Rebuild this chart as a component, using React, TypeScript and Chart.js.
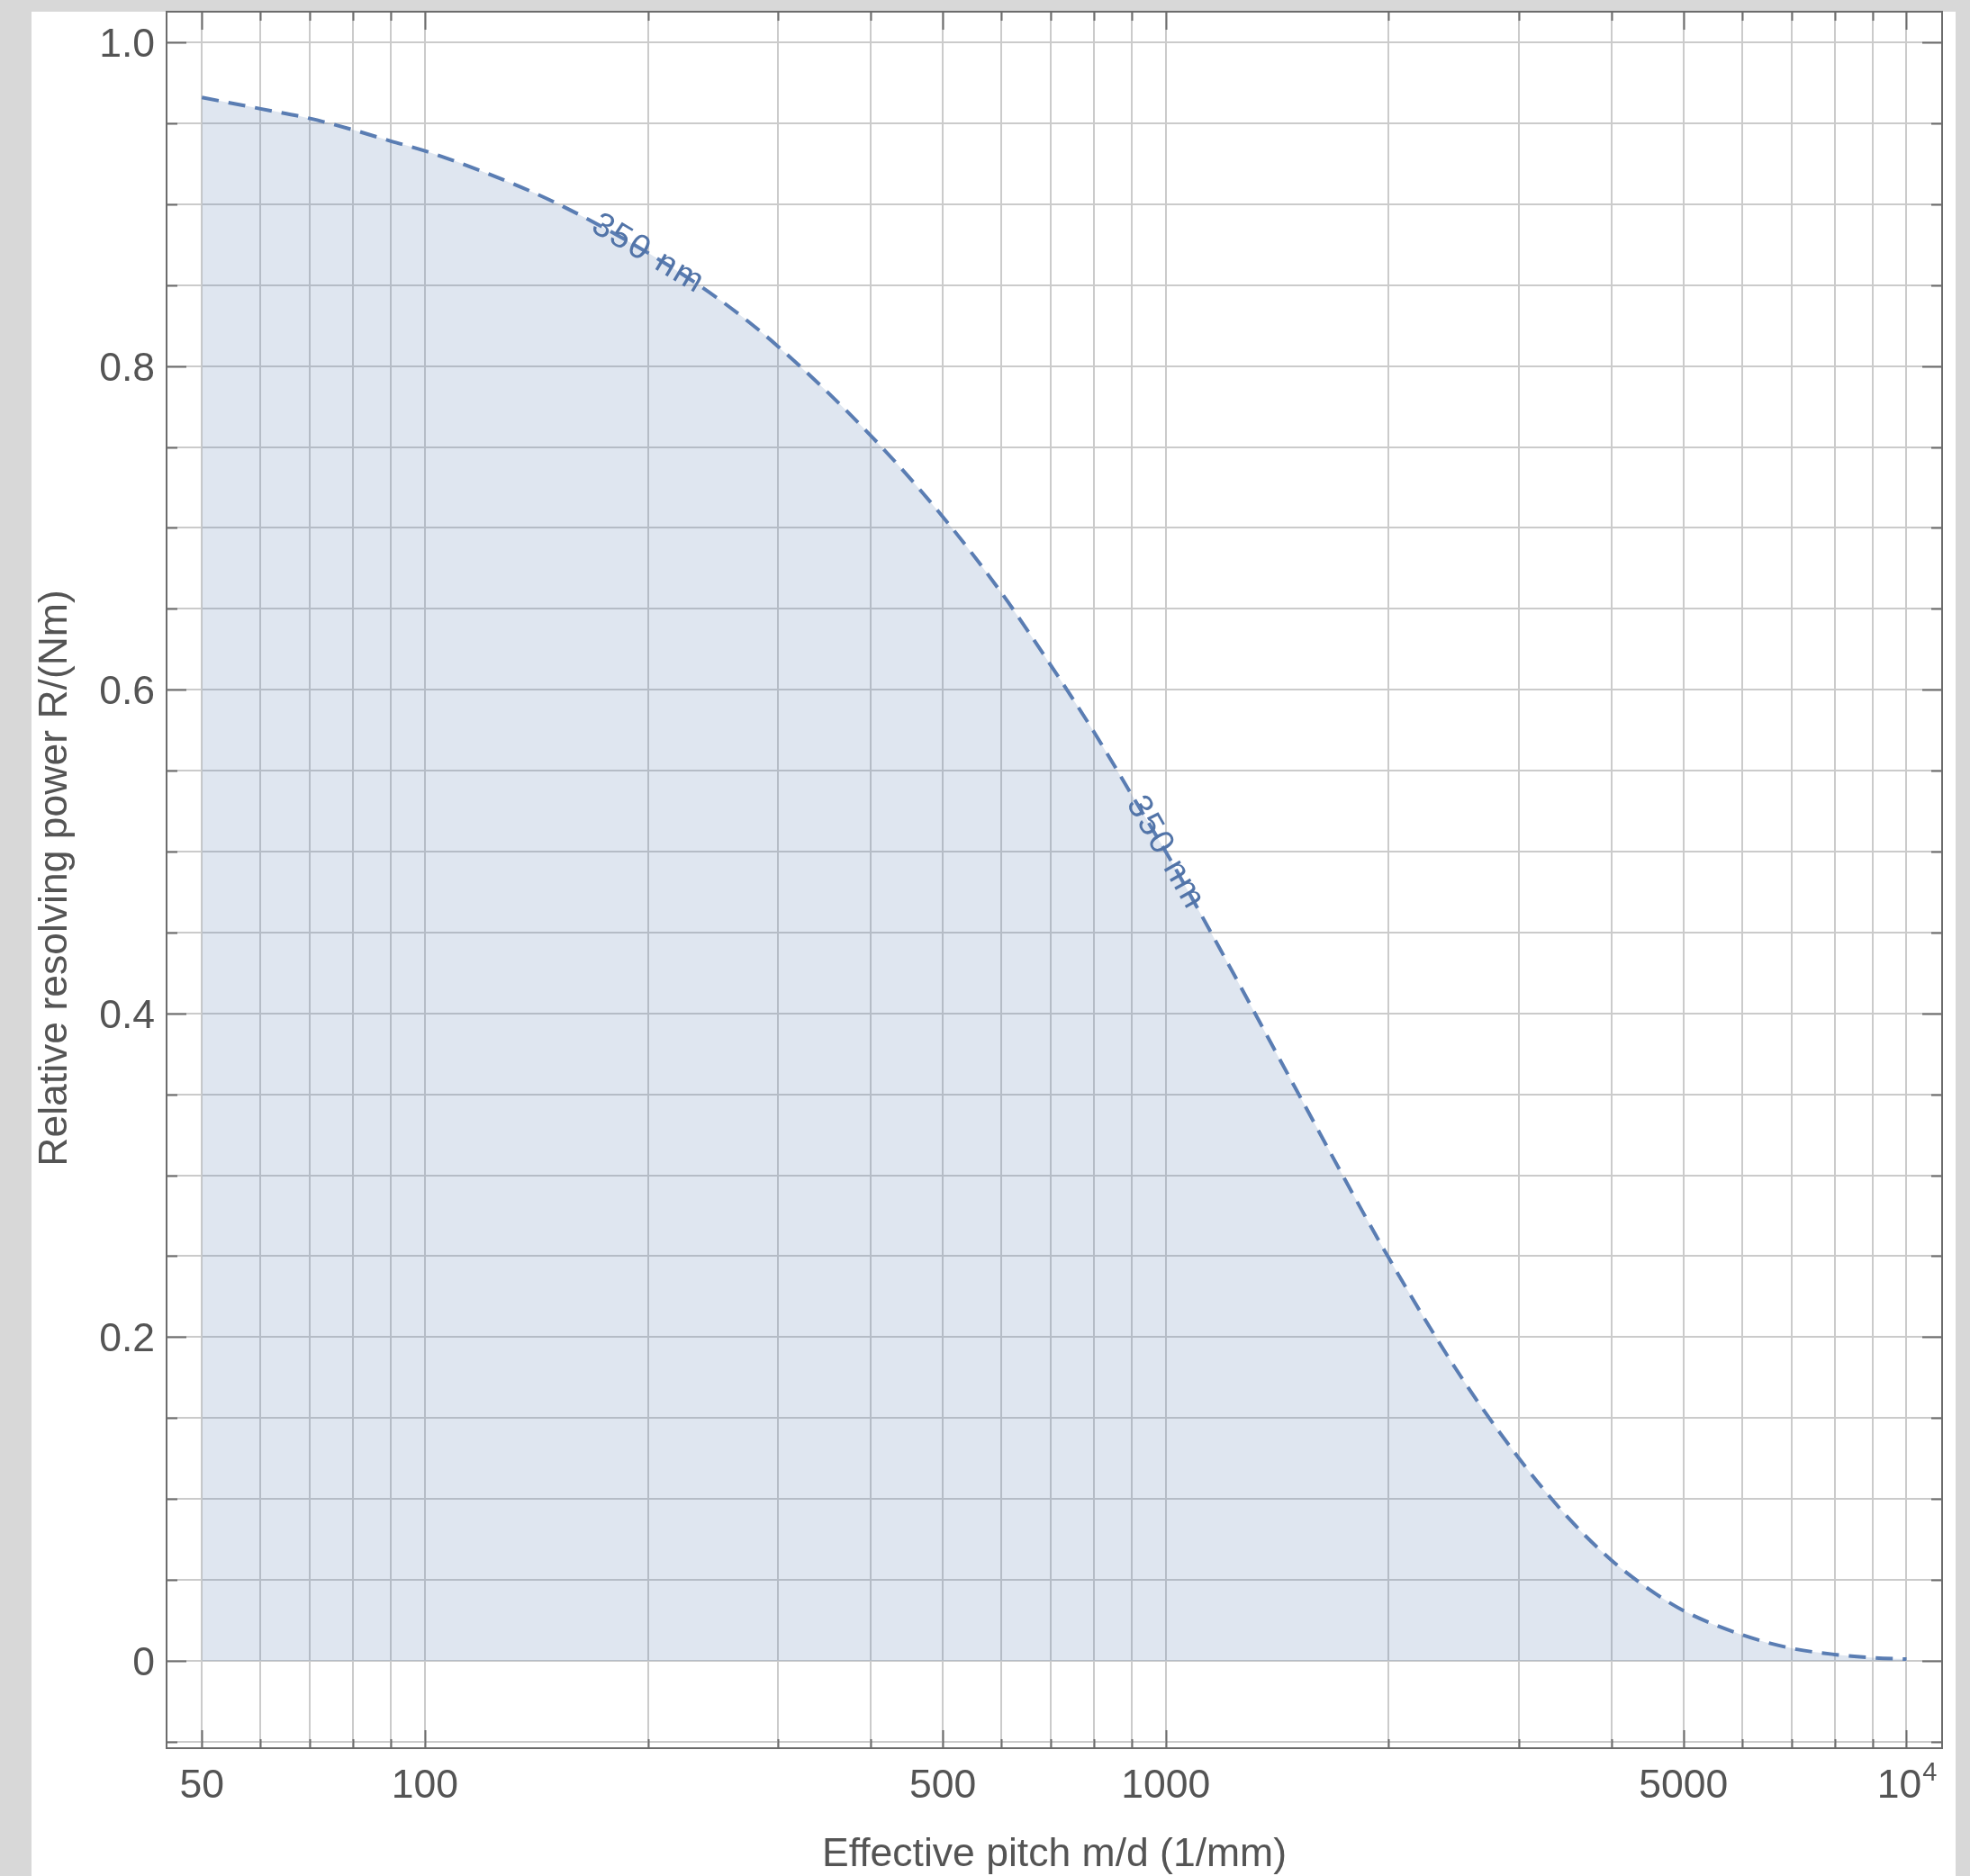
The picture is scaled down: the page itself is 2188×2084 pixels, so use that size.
import React, { useEffect, useRef } from 'react';
import { Chart, registerables } from 'chart.js';

Chart.register(...registerables);

// ---- data ----
const pitch = [50, 60, 70, 80, 90, 100, 120, 150, 200, 250, 300, 400, 500, 600, 700, 800, 900, 1000, 1200, 1500, 2000, 2500, 3000, 3500, 4000, 4500, 5000, 6000, 7000, 8000, 9000, 10000];
const resolving = [0.966, 0.959, 0.953, 0.946, 0.939, 0.933, 0.92, 0.901, 0.87, 0.841, 0.812, 0.757, 0.707, 0.66, 0.615, 0.574, 0.535, 0.5, 0.435, 0.353, 0.249, 0.176, 0.125, 0.088, 0.062, 0.044, 0.031, 0.016, 0.0077, 0.0039, 0.0019, 0.001];

const xGrid = [50, 60, 70, 80, 90, 100, 200, 300, 400, 500, 600, 700, 800, 900, 1000, 2000, 3000, 4000, 5000, 6000, 7000, 8000, 9000, 10000];
const xMajor = [50, 100, 500, 1000, 5000, 10000];
const xLabels = ['50', '100', '500', '1000', '5000', '10^4'];
const yGrid = [-0.05, 0, 0.05, 0.1, 0.15, 0.2, 0.25, 0.3, 0.35, 0.4, 0.45, 0.5, 0.55, 0.6, 0.65, 0.7, 0.75, 0.8, 0.85, 0.9, 0.95, 1.0];
const yMajor = [0, 0.2, 0.4, 0.6, 0.8, 1.0];
const yLabels = ['0', '0.2', '0.4', '0.6', '0.8', '1.0'];
const curveLabel = '350 nm';
const curveLabelAt = [200, 1000];
const xTitle = 'Effective pitch m/d (1/mm)';
const yTitle = 'Relative resolving power R/(Nm)';

const FONT = '"Liberation Sans", Arial, sans-serif';
const TEXT = '#545454';
const FRAME = '#6c6c6c';
const LINE = '#5a7db3';

const isYMajor = (v: number) => yMajor.some((m) => Math.abs(m - v) < 1e-9);

const axesPlugin = {
  id: 'mmaAxes',
  afterDatasetsDraw(chart: any) {
    const { ctx, chartArea: a, scales } = chart;
    const xs = scales.x;
    const ys = scales.y;
    ctx.save();

    // curve labels
    const meta = chart.getDatasetMeta(0);
    curveLabelAt.forEach((xv) => {
      const i = pitch.indexOf(xv);
      const p = meta.data[i];
      const p0 = meta.data[i - 1];
      const p1 = meta.data[i + 1];
      const ang = Math.atan2(p1.y - p0.y, p1.x - p0.x);
      ctx.save();
      ctx.translate(p.x, p.y);
      ctx.rotate(ang);
      ctx.font = `38px ${FONT}`;
      ctx.fillStyle = '#5274a8';
      ctx.textBaseline = 'middle';
      ctx.textAlign = 'left';
      const sp = 2;
      const chars = Array.from(curveLabel);
      const widths = chars.map((c) => ctx.measureText(c).width);
      const total = widths.reduce((s, w) => s + w, 0) + sp * (chars.length - 1);
      let cx = -total / 2;
      chars.forEach((c, k) => {
        ctx.fillText(c, cx, 1);
        cx += widths[k] + sp;
      });
      ctx.restore();
    });

    // frame
    ctx.strokeStyle = FRAME;
    ctx.lineWidth = 2;
    ctx.strokeRect(a.left, a.top, a.right - a.left, a.bottom - a.top);

    // ticks
    ctx.beginPath();
    xGrid.forEach((v) => {
      const px = Math.round(xs.getPixelForValue(v)) + 0.5;
      const len = xMajor.includes(v) ? 20 : 10;
      ctx.moveTo(px, a.bottom);
      ctx.lineTo(px, a.bottom - len);
      ctx.moveTo(px, a.top);
      ctx.lineTo(px, a.top + len);
    });
    yGrid.forEach((v) => {
      const py = Math.round(ys.getPixelForValue(v)) + 0.5;
      const len = isYMajor(v) ? 22 : 12;
      ctx.moveTo(a.left, py);
      ctx.lineTo(a.left + len, py);
      ctx.moveTo(a.right, py);
      ctx.lineTo(a.right - len, py);
    });
    ctx.stroke();

    // tick labels
    ctx.fillStyle = TEXT;
    ctx.font = `44.5px ${FONT}`;
    ctx.textBaseline = 'alphabetic';
    ctx.textAlign = 'right';
    yMajor.forEach((v, i) => {
      const py = ys.getPixelForValue(v);
      ctx.fillText(yLabels[i], a.left - 13, py + 16);
    });
    const xBase = a.bottom + 55;
    xMajor.forEach((v, i) => {
      const px = xs.getPixelForValue(v);
      const lab = xLabels[i];
      if (lab.includes('^')) {
        const [b, e] = lab.split('^');
        ctx.font = `44.5px ${FONT}`;
        const wb = ctx.measureText(b).width;
        ctx.font = `29px ${FONT}`;
        const we = ctx.measureText(e).width;
        const start = px - (wb + we) / 2;
        ctx.textAlign = 'left';
        ctx.font = `44.5px ${FONT}`;
        ctx.fillText(b, start, xBase);
        ctx.font = `29px ${FONT}`;
        ctx.fillText(e, start + wb + 1, xBase - 19);
        ctx.font = `44.5px ${FONT}`;
      } else {
        ctx.textAlign = 'center';
        ctx.fillText(lab, px, xBase);
      }
    });

    // titles
    ctx.textAlign = 'center';
    ctx.font = `44.5px ${FONT}`;
    ctx.fillText(xTitle, (a.left + a.right) / 2, a.bottom + 131);
    ctx.save();
    ctx.translate(74, (a.top + a.bottom) / 2 - 2);
    ctx.rotate(-Math.PI / 2);
    ctx.fillText(yTitle, 0, 0);
    ctx.restore();

    ctx.restore();
  },
};

export default function App() {
  const ref = useRef<HTMLCanvasElement>(null);

  useEffect(() => {
    const canvas = ref.current;
    if (!canvas) return;
    const chart = new Chart(canvas, {
      type: 'line',
      data: {
        datasets: [
          {
            data: pitch.map((x, i) => ({ x, y: resolving[i] })),
            borderColor: LINE,
            borderWidth: 4,
            borderDash: [19, 11],
            backgroundColor: 'rgba(94,129,181,0.2)',
            fill: 'origin',
            pointRadius: 0,
            cubicInterpolationMode: 'monotone',
          },
        ],
      },
      options: {
        animation: false,
        responsive: true,
        maintainAspectRatio: false,
        events: [],
        layout: { padding: { left: 185, top: 13, right: 31, bottom: 142 } },
        plugins: { legend: { display: false }, tooltip: { enabled: false } },
        scales: {
          x: {
            type: 'logarithmic',
            min: 44.8,
            max: 11170,
            afterBuildTicks: (s: any) => {
              s.ticks = xGrid.map((v) => ({ value: v }));
            },
            ticks: { display: false },
            grid: { color: '#cbcbcb', lineWidth: 2, drawTicks: false },
            border: { display: false },
          },
          y: {
            type: 'linear',
            min: -0.054,
            max: 1.019,
            afterBuildTicks: (s: any) => {
              s.ticks = yGrid.map((v) => ({ value: v }));
            },
            ticks: { display: false },
            grid: { color: '#cbcbcb', lineWidth: 2, drawTicks: false },
            border: { display: false },
          },
        },
      },
      plugins: [axesPlugin],
    } as any);
    return () => chart.destroy();
  }, []);

  return (
    <div style={{ position: 'absolute', left: 0, top: 0, width: 2188, height: 2084, background: '#d8d8d8', overflow: 'hidden' }}>
      <div style={{ position: 'absolute', left: 35, top: 13, width: 2137, height: 2071, background: '#ffffff' }} />
      <div style={{ position: 'absolute', left: 0, top: 0, width: 2188, height: 2084 }}>
        <canvas ref={ref} />
      </div>
    </div>
  );
}
